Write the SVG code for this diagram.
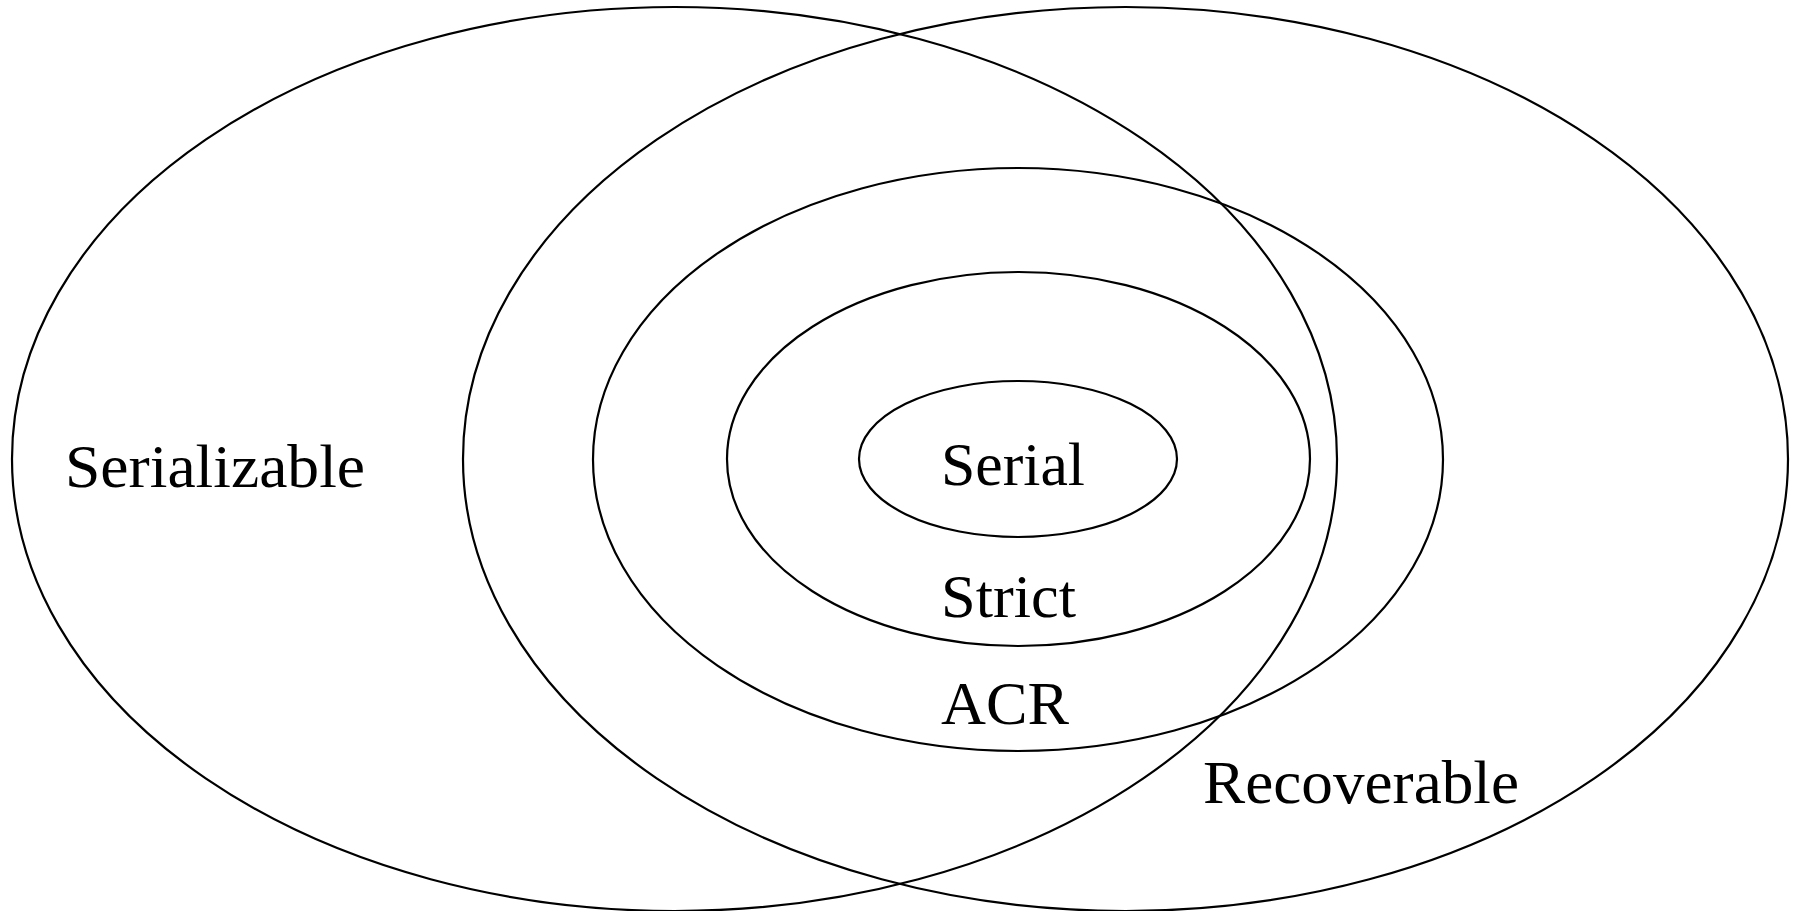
<svg xmlns="http://www.w3.org/2000/svg" width="1793" height="911" viewBox="0 0 1793 911">
<style>
.set{fill:none;stroke:#000;stroke-width:2.2}
.lbl{font-family:"Liberation Serif","Times New Roman",serif;font-size:62px;fill:#000}
</style>
<rect width="1793" height="911" fill="#fff"/>
<g id="serializable">
<ellipse class="set" cx="674.5" cy="459" rx="662.5" ry="452"/>
<text class="lbl" x="65" y="487" textLength="300" lengthAdjust="spacingAndGlyphs">Serializable</text>
</g>
<g id="recoverable">
<ellipse class="set" cx="1125.5" cy="459" rx="662.5" ry="452"/>
<text class="lbl" x="1203" y="803" textLength="316" lengthAdjust="spacingAndGlyphs">Recoverable</text>
</g>
<g id="acr">
<ellipse class="set" cx="1018" cy="459.5" rx="425" ry="291.5"/>
<text class="lbl" x="941" y="724" textLength="128" lengthAdjust="spacingAndGlyphs">ACR</text>
</g>
<g id="strict">
<ellipse class="set" cx="1018.5" cy="459" rx="291.5" ry="187"/>
<text class="lbl" x="941" y="617" textLength="135" lengthAdjust="spacingAndGlyphs">Strict</text>
</g>
<g id="serial">
<ellipse class="set" cx="1018" cy="459" rx="159" ry="78"/>
<text class="lbl" x="941" y="485" textLength="144" lengthAdjust="spacingAndGlyphs">Serial</text>
</g>
<g id="connectors"/>
</svg>
